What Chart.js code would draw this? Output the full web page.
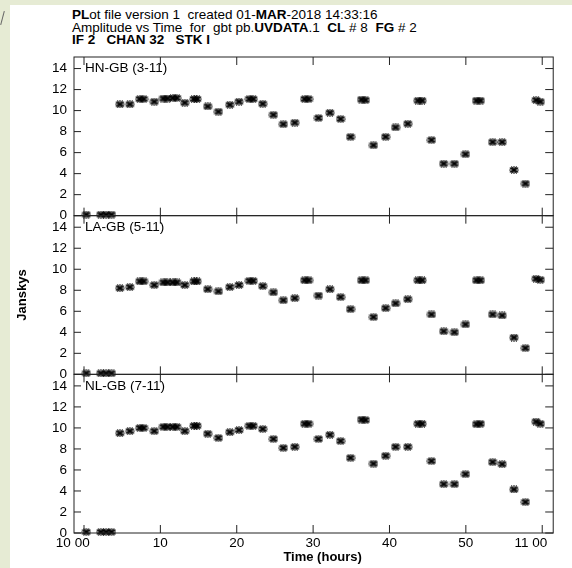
<!DOCTYPE html>
<html>
<head>
<meta charset="utf-8">
<script src="https://cdn.jsdelivr.net/npm/chart.js@4/dist/chart.umd.min.js"></script>
<style>
html,body{margin:0;padding:0;background:#fff;}
body{width:572px;height:568px;position:relative;overflow:hidden;font-family:"Liberation Sans",Arial,sans-serif;}
#greenTop{position:absolute;left:0;top:0;width:572px;height:5px;background:#e6ebd4;}
#greenLeft{position:absolute;left:0;top:0;width:10px;height:568px;background:#e6ebd4;}
#slash{position:absolute;left:2px;top:11px;width:1px;height:14px;background:#666;transform:rotate(15deg);}
#hdr{position:absolute;left:72px;top:9px;font-size:13.5px;line-height:12.5px;color:#000;white-space:pre;}
#wrap{position:absolute;left:0;top:0;width:572px;height:568px;}
</style>
</head>
<body>
<div id="greenTop"></div>
<div id="greenLeft"></div>
<div id="slash"></div>
<div id="hdr"><b>PL</b>ot file version 1  created 01-<b>MAR</b>-2018 14:33:16
Amplitude vs Time  for  gbt pb.<b>UVDATA</b>.1  <b>CL</b> # 8  <b>FG</b> # 2
<b>IF 2   CHAN 32   STK I</b></div>
<div id="wrap"><canvas id="c" width="572" height="568"></canvas></div>
<script>
// ---- data (time in minutes after 10:00) ----
const times = [0.3, 2.2, 2.9, 3.6, 4.7, 6.0, 7.3, 7.8, 9.2, 10.4, 10.9, 11.65, 12.15, 13.2, 14.4, 14.8,
  16.2, 17.6, 19.1, 20.3, 21.65, 22.15, 23.4, 24.8, 26.1, 27.6, 28.9, 29.4, 30.7, 32.2, 33.6, 34.9,
  36.35, 36.85, 37.9, 39.5, 40.8, 42.4, 43.75, 44.25, 45.5, 47.1, 48.5, 49.95, 51.4, 51.9,
  53.5, 54.75, 56.3, 57.8, 59.2, 59.75];
const hnGb = [0.1, 0.1, 0.1, 0.1, 10.6, 10.6, 11.1, 11.1, 10.85, 11.15, 11.15, 11.2, 11.2, 10.75, 11.1, 11.1,
  10.4, 9.9, 10.55, 10.85, 11.1, 11.1, 10.65, 9.6, 8.7, 8.85, 11.1, 11.1, 9.3, 9.8, 9.2, 7.5,
  11.05, 11.0, 6.7, 7.5, 8.4, 8.75, 10.95, 10.95, 7.2, 4.95, 4.95, 5.85, 10.95, 10.95,
  7.0, 7.0, 4.35, 3.05, 11.0, 10.85];
const laGb = [0.1, 0.1, 0.1, 0.1, 8.2, 8.3, 8.85, 8.85, 8.5, 8.75, 8.75, 8.75, 8.75, 8.5, 8.85, 8.85,
  8.1, 7.9, 8.3, 8.5, 8.9, 8.9, 8.4, 7.8, 7.05, 7.25, 8.95, 8.95, 7.5, 8.1, 7.35, 6.2,
  8.95, 8.95, 5.45, 6.3, 6.75, 7.15, 8.95, 8.95, 5.7, 4.1, 4.0, 4.75, 8.95, 8.95,
  5.7, 5.6, 3.5, 2.5, 9.1, 9.0];
const nlGb = [0.1, 0.1, 0.1, 0.1, 9.5, 9.7, 10.0, 10.0, 9.7, 10.1, 10.1, 10.1, 10.1, 9.7, 10.2, 10.2,
  9.45, 9.05, 9.6, 9.8, 10.2, 10.2, 9.9, 8.95, 8.1, 8.2, 10.4, 10.4, 8.95, 9.35, 8.75, 7.15,
  10.8, 10.75, 6.6, 7.35, 8.2, 8.2, 10.4, 10.4, 6.85, 4.65, 4.65, 5.6, 10.35, 10.4,
  6.75, 6.55, 4.15, 2.95, 10.6, 10.4];
const baselines = ['HN-GB (3-11)', 'LA-GB (5-11)', 'NL-GB (7-11)'];
const yTickValues = [0, 2, 4, 6, 8, 10, 12, 14];
const xTickValues = [0, 10, 20, 30, 40, 50, 60];
const xTickLabels = ['10 00', '10', '20', '30', '40', '50', '11 00'];
const yTitle = 'Janskys';
const xTitle = 'Time (hours)';

// ---- styling ----
Chart.defaults.font.family = '"Liberation Sans", Arial, sans-serif';
Chart.defaults.font.size = 13.5;
Chart.defaults.color = '#000';

function makeMarker() {
  const c = document.createElement('canvas');
  c.width = 10; c.height = 8;
  const g = c.getContext('2d');
  g.strokeStyle = '#000'; g.lineWidth = 1.2; g.lineCap = 'round';
  const cx = 5, cy = 4;
  [[4.3, 0], [3.8, 2.0], [2.4, 3.1], [0, 3.3], [-2.4, 3.1], [-3.8, 2.0]].forEach(([dx, dy]) => {
    g.beginPath(); g.moveTo(cx - dx, cy - dy); g.lineTo(cx + dx, cy + dy); g.stroke();
  });
  return c;
}
const marker = makeMarker();

const panelIds = ['yHN', 'yLA', 'yNL'];
const series = [hnGb, laGb, nlGb];

const datasets = series.map((vals, i) => ({
  label: baselines[i],
  data: times.map((t, k) => ({x: t, y: vals[k]})),
  yAxisID: panelIds[i],
  showLine: false,
  pointStyle: marker,
  pointRadius: 4,
  clip: false
}));

function yScale(withTitle) {
  return {
    type: 'linear', position: 'left', stack: 'panels', stackWeight: 1,
    min: 0, max: 15.1,
    afterBuildTicks: s => { s.ticks = yTickValues.map(v => ({value: v})); },
    afterFit: s => { s.width = 74; },
    grid: {display: false, drawTicks: false},
    border: {display: false},
    ticks: {padding: 7, autoSkip: false, maxRotation: 0, color: '#000'},
    title: {display: withTitle, text: yTitle, font: {size: 13, weight: 'bold'}, padding: {top: 15, bottom: 0}, color: '#000'}
  };
}

const framePlugin = {
  id: 'frame',
  afterDatasetsDraw(chart) {
    const {ctx, chartArea, scales} = chart;
    const xs = scales.x;
    ctx.save();
    ctx.strokeStyle = '#222';
    ctx.lineWidth = 1;
    panelIds.forEach((id, i) => {
      const s = scales[id];
      const top = s.top, bot = s.bottom, l = chartArea.left, r = chartArea.right;
      ctx.strokeRect(l, top, r - l, bot - top);
      ctx.beginPath();
      s.ticks.forEach(t => {
        const y = s.getPixelForValue(t.value);
        ctx.moveTo(l, y); ctx.lineTo(l + 7, y);
        ctx.moveTo(r, y); ctx.lineTo(r - 8, y);
      });
      xs.ticks.forEach(t => {
        const x = xs.getPixelForValue(t.value);
        ctx.moveTo(x, top); ctx.lineTo(x, top + 8);
        ctx.moveTo(x, bot); ctx.lineTo(x, bot - 8);
      });
      ctx.stroke();
      ctx.fillStyle = '#000';
      ctx.font = '13.5px "Liberation Sans", Arial, sans-serif';
      ctx.textBaseline = 'middle';
      ctx.textAlign = 'left';
      ctx.fillText(baselines[i], l + 11, s.getPixelForValue(14));
    });
    ctx.restore();
  }
};

new Chart(document.getElementById('c'), {
  type: 'scatter',
  data: {datasets},
  options: {
    responsive: false,
    animation: false,
    devicePixelRatio: 1,
    layout: {padding: {top: 57, right: 6, left: 0, bottom: 0}},
    plugins: {legend: {display: false}, tooltip: {enabled: false}},
    scales: {
      x: {
        type: 'linear', position: 'bottom', min: -1.31, max: 61.44,
        afterBuildTicks: s => { s.ticks = xTickValues.map(v => ({value: v})); },
        afterFit: s => { s.height = 35; },
        grid: {display: false, drawTicks: false},
        border: {display: false},
        ticks: {
          padding: 2, autoSkip: false, maxRotation: 0, color: '#000',
          callback: (v) => {
            const lbl = xTickLabels[xTickValues.indexOf(v)];
            return lbl.includes(' ') ? lbl + '      ' : lbl;
          }
        },
        title: {display: true, text: '     ' + xTitle, font: {size: 13, weight: 'bold'}, padding: {top: 0, bottom: 3}, color: '#000'}
      },
      // stacked axes are laid out bottom-up, so the bottom panel comes first
      yNL: yScale(false),
      yLA: yScale(true),
      yHN: yScale(false)
    }
  },
  plugins: [framePlugin]
});
</script>
</body>
</html>
